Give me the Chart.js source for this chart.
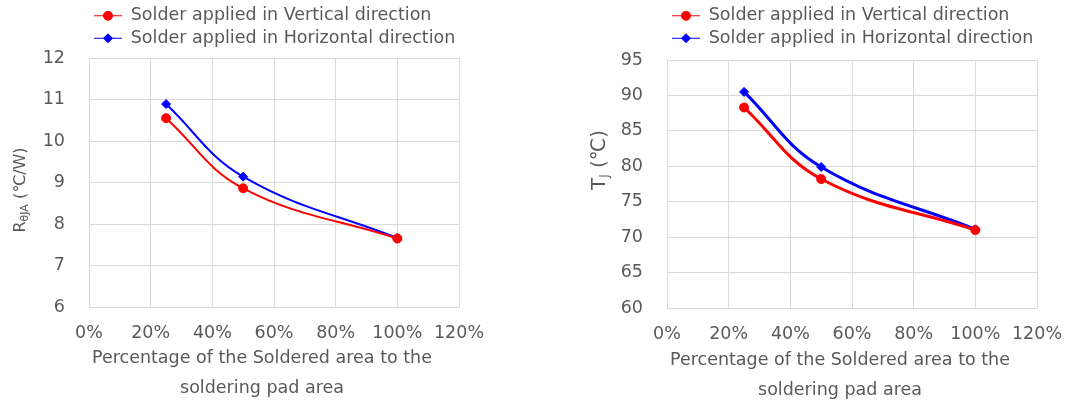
<!DOCTYPE html>
<html lang="en">
<head>
    <meta charset="UTF-8">
    <title>Solder area vs thermal resistance / junction temperature</title>
    <script src="https://cdn.jsdelivr.net/npm/chart.js@4.4.0/dist/chart.umd.min.js"></script>
    <style>
        body {
            margin: 0;
            background: #fff;
            font-family: "DejaVu Sans", sans-serif;
        }
        #wrap {
            position: relative;
            width: 1072px;
            height: 401px;
        }
        .box {
            position: absolute;
            top: 0;
            height: 401px;
        }
        #leftBox { left: 0; width: 540px; }
        #rightBox { left: 540px; width: 532px; }
    </style>
</head>
<body>
<div id="wrap">
    <div class="box" id="leftBox"><canvas id="rthCanvas"></canvas></div>
    <div class="box" id="rightBox"><canvas id="tjCanvas"></canvas></div>
</div>

<script>
// soldered area share (fraction of pad area)
const solderedArea = [0.25, 0.5, 1.0];

// left chart: R thetaJA (degC/W)
const rthVertical = [10.55, 8.86, 7.65];
const rthHorizontal = [10.89, 9.14, 7.66];

// right chart: Tj (degC)
const tjVertical = [88.3, 78.2, 71.0];
const tjHorizontal = [90.5, 79.9, 71.1];

const seriesNames = ['Solder applied in Vertical direction', 'Solder applied in Horizontal direction'];
const xTitle = ['Percentage of the Soldered area to the', 'soldering pad area'];

const textColor = '#595959';
const gridColor = '#d9d9d9';
const fontFamily = '"DejaVu Sans", sans-serif';
const fontSize = 17.5;

function toPoints(values) {
    return solderedArea.map((x, i) => ({ x: x, y: values[i] }));
}

// force legend height so the plot top lands where we want it
const legendHeight = {
    id: 'legendHeight',
    beforeUpdate(chart, args, opts) {
        const lg = chart.legend;
        if (!lg || lg._patched) return;
        const orig = lg.fit;
        lg.fit = function () {
            orig.call(this);
            this.height = opts.height;
        };
        lg._patched = true;
    }
};

// draw the marker on top of the line sample in the legend
const legendMarkers = {
    id: 'legendMarkers',
    afterDraw(chart) {
        const lg = chart.legend;
        if (!lg || !lg.legendHitBoxes) return;
        const ctx = chart.ctx;
        const boxW = lg.options.labels.pointStyleWidth;
        const half = lg.options.labels.font.size / 2;
        lg.legendHitBoxes.forEach((hb, i) => {
            const ds = chart.data.datasets[i];
            ctx.save();
            ctx.fillStyle = ds.borderColor;
            ctx.strokeStyle = ds.borderColor;
            ctx.lineWidth = 1;
            Chart.helpers.drawPoint(ctx, {
                pointStyle: ds.pointStyle,
                radius: ds.pointRadius,
                rotation: 0,
                borderWidth: 1
            }, hb.left + boxW / 2, hb.top + half);
            ctx.restore();
        });
    }
};

// rotated y title with a subscript part, and the two-line x title
const axisTitles = {
    id: 'axisTitles',
    afterDraw(chart, args, opts) {
        const ctx = chart.ctx;
        ctx.save();
        ctx.fillStyle = textColor;

        // x title
        ctx.font = fontSize + 'px ' + fontFamily;
        ctx.textAlign = 'center';
        ctx.textBaseline = 'middle';
        xTitle.forEach((line, i) => {
            ctx.fillText(line, opts.xCenter, opts.xTop + i * 30);
        });

        // y title
        const t = opts.y;
        const big = t.size + 'px ' + fontFamily;
        const small = t.subSize + 'px ' + fontFamily;
        ctx.font = big;
        const w1 = ctx.measureText(t.main).width;
        const w3 = ctx.measureText(t.tail).width;
        ctx.font = small;
        const w2 = ctx.measureText(t.sub).width;
        const total = w1 + w2 + w3;
        ctx.translate(t.x, t.y);
        ctx.rotate(-Math.PI / 2);
        ctx.textBaseline = 'alphabetic';
        ctx.textAlign = 'left';
        let x = -total / 2;
        ctx.font = big;
        ctx.fillText(t.main, x, t.size * 0.37);
        x += w1;
        ctx.font = small;
        ctx.fillText(t.sub, x, t.size * 0.37 + 3);
        x += w2;
        ctx.font = big;
        ctx.fillText(t.tail, x, t.size * 0.37);
        ctx.restore();
    }
};

function makeChart(canvasId, vert, horiz, cfg) {
    const ctx = document.getElementById(canvasId).getContext('2d');
    return new Chart(ctx, {
        type: 'line',
        data: {
            datasets: [{
                label: seriesNames[0],
                data: toPoints(vert),
                borderColor: '#ff0000',
                backgroundColor: '#ff0000',
                borderWidth: cfg.lineWidth,
                pointStyle: 'circle',
                pointRadius: 4.5,
                pointBorderWidth: 1,
                tension: 0.4,
                fill: false
            }, {
                label: seriesNames[1],
                data: toPoints(horiz),
                borderColor: '#0000ff',
                backgroundColor: '#0000ff',
                borderWidth: cfg.lineWidth,
                pointStyle: 'rectRot',
                pointRadius: 4.5,
                pointBorderWidth: 1,
                tension: 0.4,
                fill: false
            }]
        },
        options: {
            responsive: false,
            animation: false,
            devicePixelRatio: 1,
            layout: {
                padding: { left: 0, right: cfg.padRight, top: 2, bottom: 0 }
            },
            plugins: {
                tooltip: { enabled: false },
                legend: {
                    position: 'top',
                    align: 'start',
                    fullSize: false,
                    labels: {
                        usePointStyle: true,
                        pointStyle: 'line',
                        pointStyleWidth: 28,
                        padding: 5,
                        color: textColor,
                        font: { family: fontFamily, size: fontSize }
                    }
                },
                legendHeight: { height: cfg.legendH },
                axisTitles: cfg.titles
            },
            scales: {
                x: {
                    type: 'linear',
                    min: 0,
                    max: 1.2,
                    afterFit(scale) { scale.height = cfg.xHeight; },
                    ticks: {
                        stepSize: 0.2,
                        padding: 2,
                        color: textColor,
                        font: { family: fontFamily, size: fontSize },
                        callback: v => Math.round(v * 100) + '%'
                    },
                    grid: { color: gridColor, drawTicks: true, tickLength: 14, tickColor: 'rgba(0,0,0,0)' },
                    border: { color: gridColor }
                },
                y: {
                    min: cfg.yMin,
                    max: cfg.yMax,
                    afterFit(scale) { scale.width = cfg.yWidth; },
                    ticks: {
                        stepSize: cfg.yStep,
                        padding: 24,
                        color: textColor,
                        font: { family: fontFamily, size: fontSize }
                    },
                    grid: { color: gridColor, drawTicks: false },
                    border: { color: gridColor }
                }
            }
        },
        plugins: [legendHeight, legendMarkers, axisTitles]
    });
}

document.getElementById('rthCanvas').width = 540;
document.getElementById('rthCanvas').height = 401;
document.getElementById('tjCanvas').width = 532;
document.getElementById('tjCanvas').height = 401;

makeChart('rthCanvas', rthVertical, rthHorizontal, {
    lineWidth: 2,
    padRight: 81,
    legendH: 56,
    xHeight: 94,
    yWidth: 89,
    yMin: 6, yMax: 12, yStep: 1,
    titles: {
        xCenter: 262, xTop: 358,
        y: { main: 'R', sub: 'θJA', tail: ' (℃/W)', x: 19, y: 190, size: 16, subSize: 11 }
    }
});

makeChart('tjCanvas', tjVertical, tjHorizontal, {
    lineWidth: 3,
    padRight: 35,
    legendH: 58,
    xHeight: 93,
    yWidth: 127,
    yMin: 60, yMax: 95, yStep: 5,
    titles: {
        xCenter: 300, xTop: 360,
        y: { main: 'T', sub: 'J', tail: ' (℃)', x: 58, y: 160, size: 20, subSize: 12 }
    }
});
</script>
</body>
</html>
